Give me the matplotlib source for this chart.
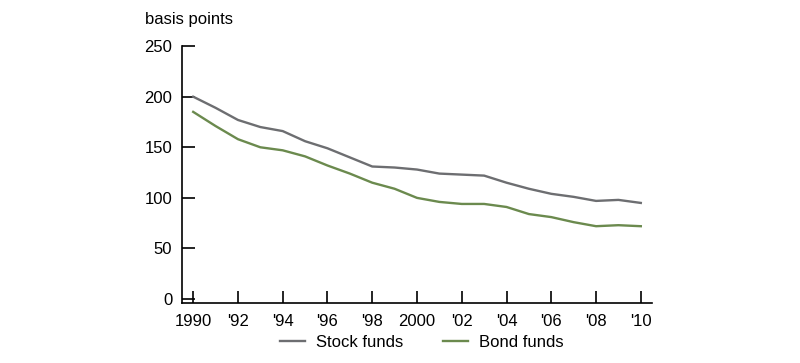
import matplotlib
matplotlib.use("Agg")
import matplotlib.pyplot as plt
from matplotlib.lines import Line2D

plt.rcParams['font.family'] = ['Liberation Sans', 'DejaVu Sans']

years = list(range(1990, 2011))
stock_funds = [200, 189, 177, 170, 166, 156, 149, 140, 131, 130, 128, 124, 123, 122, 115, 109, 104, 101, 97, 98, 95]
bond_funds = [185, 171, 158, 150, 147, 141, 132, 124, 115, 109, 100, 96, 94, 94, 91, 84, 81, 76, 72, 73, 72]
xtick_years = list(range(1990, 2011, 2))
xtick_labels = ['1990', "'92", "'94", "'96", "'98", '2000', "'02", "'04", "'06", "'08", "'10"]
yticks = [0, 50, 100, 150, 200, 250]

stock_color = '#6d6e71'
bond_color = '#6b8a4e'

fig = plt.figure(figsize=(8, 3.63), dpi=100)
ax = fig.add_axes([0.2275, 0.165, 0.5875, 0.708])
ax.plot(years, stock_funds, color=stock_color, lw=1.7, solid_joinstyle='round')
ax.plot(years, bond_funds, color=bond_color, lw=1.7, solid_joinstyle='round')

ax.set_xlim(1989.5, 2010.5)
ax.set_ylim(-4, 250)
ax.set_xticks(xtick_years)
ax.set_xticklabels(xtick_labels)
ax.set_yticks(yticks)
ax.tick_params(axis='both', direction='in', length=9, width=1.2, labelsize=12, colors='black')
ax.tick_params(axis='x', pad=8)
ax.tick_params(axis='y', pad=7)
for s in ['top', 'right']:
    ax.spines[s].set_visible(False)
for s in ['left', 'bottom']:
    ax.spines[s].set_linewidth(1.2)

fig.text(0.181, 0.945, 'basis points', fontsize=12, ha='left', va='center')

handles = [Line2D([], [], color=stock_color, lw=1.7), Line2D([], [], color=bond_color, lw=1.7)]
fig.legend(handles, ['Stock funds', 'Bond funds'], loc='center', bbox_to_anchor=(0.527, 0.057),
           ncol=2, frameon=False, fontsize=12, handlelength=1.5, columnspacing=2.4, handletextpad=0.65,
           borderpad=0, borderaxespad=0)

fig.savefig('out.png', dpi=100)
